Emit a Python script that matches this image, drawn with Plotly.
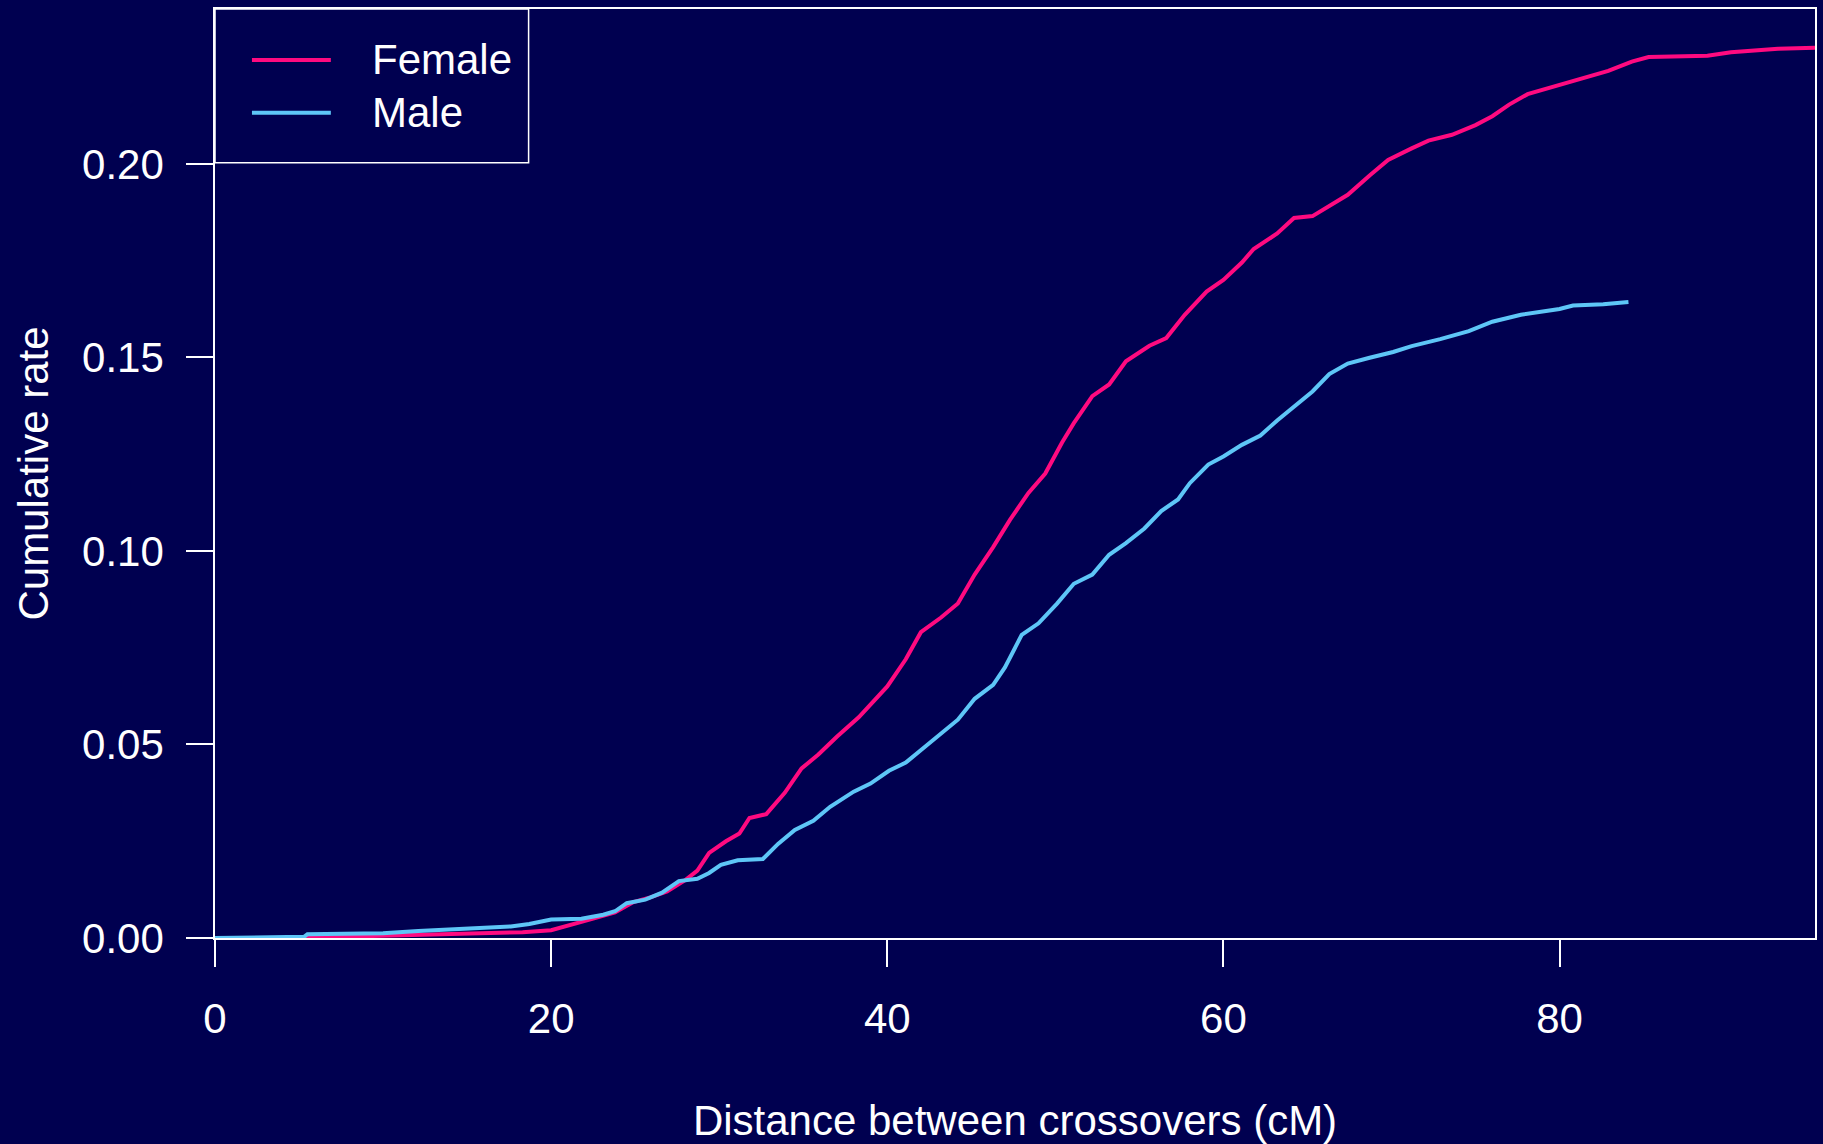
import plotly.graph_objects as go

# cumulative crossover rate by distance (cM)
female_x = [0, 5.5, 10, 14.9, 18.3, 20, 21, 22.5, 23.8, 24.9, 25.9, 26.9, 28, 28.7, 29.4,
            30.4, 31.2, 31.8, 32.8, 33.9, 34.9, 35.9, 37, 38.3, 40, 41.1, 42, 43.2, 44.2,
            45.2, 46.3, 47.3, 48.4, 49.4, 50.4, 51.1, 52.2, 53.2, 54.2, 55.6, 56.6, 57.7,
            59, 60, 61.1, 61.8, 63.2, 64.2, 65.3, 66.3, 67.4, 68.7, 69.8, 71.2, 72.2, 73.6,
            75, 76, 77, 78.1, 80, 81.5, 82.9, 84.3, 85.3, 88.8, 90.2, 93, 95.2]
female_y = [0, 0, 0.0006, 0.001, 0.0015, 0.002, 0.0033, 0.005, 0.0066, 0.0093, 0.0105,
            0.012, 0.015, 0.0174, 0.022, 0.025, 0.027, 0.031, 0.032, 0.0375, 0.0438, 0.0474,
            0.052, 0.057, 0.065, 0.072, 0.079, 0.0828, 0.0864, 0.0939, 0.101, 0.108, 0.115,
            0.12, 0.128, 0.133, 0.14, 0.143, 0.149, 0.153, 0.155, 0.161, 0.167, 0.170,
            0.1745, 0.178, 0.182, 0.186, 0.1865, 0.189, 0.192, 0.197, 0.201, 0.204, 0.206,
            0.2075, 0.21, 0.2123, 0.2153, 0.218, 0.2204, 0.2222, 0.224, 0.2264, 0.2276,
            0.2279, 0.2288, 0.2297, 0.2300]

male_x = [0, 5.3, 5.5, 10, 12.1, 14.5, 17.6, 18.7, 20, 21.8, 23.1, 23.8, 24.5, 25.6, 26.6,
          27.6, 28.7, 29.4, 30.1, 31.1, 32.6, 33.5, 34.5, 35.6, 36.6, 38, 39, 40.1, 41.1,
          42.1, 43.2, 44.2, 45.2, 46.3, 47, 48, 49, 50.1, 51.1, 52.2, 53.2, 54.2, 55.3,
          56.3, 57.3, 58, 59.1, 60, 61.1, 62.2, 63.2, 64.2, 65.3, 66.3, 67.4, 68.7, 70.1,
          71.2, 72.9, 74.6, 76, 77.7, 80, 80.8, 82.6, 84.1]
male_y = [0, 0.0003, 0.001, 0.0012, 0.0018, 0.0024, 0.003, 0.0036, 0.0048, 0.005, 0.006,
          0.0069, 0.009, 0.0099, 0.0117, 0.0147, 0.0153, 0.0168, 0.0189, 0.0201, 0.0204,
          0.0243, 0.0279, 0.0303, 0.0339, 0.0378, 0.0399, 0.0432, 0.0453, 0.0489, 0.0528,
          0.0564, 0.0618, 0.0654, 0.0699, 0.0783, 0.0813, 0.0864, 0.0915, 0.0939, 0.099,
          0.102, 0.1058, 0.1103, 0.1133, 0.1175, 0.1223, 0.1244, 0.1274, 0.1298, 0.1337,
          0.1373, 0.1412, 0.1457, 0.1484, 0.1499, 0.1514, 0.1529, 0.1547, 0.1568, 0.1592,
          0.161, 0.1625, 0.1634, 0.1637, 0.1643]

series_names = ['Female', 'Male']
series_colors = ['#FF0A80', '#5EC6F7']

x_ticks = [0, 20, 40, 60, 80]
y_ticks = [0.0, 0.05, 0.10, 0.15, 0.20]

BG = '#000050'
FONT = 'Liberation Sans, Arial, sans-serif'

fig = go.Figure()
for name, color, xs, ys in [(series_names[0], series_colors[0], female_x, female_y),
                            (series_names[1], series_colors[1], male_x, male_y)]:
    fig.add_trace(go.Scatter(
        x=xs, y=ys, mode='lines', name=name,
        line=dict(color=color, width=4),
        showlegend=False
    ))

# hand-drawn legend box, R style (long line samples)
fig.add_shape(type='rect', xref='paper', yref='paper', x0=0, x1=0.196, y0=0.8344, y1=1,
              line=dict(color='white', width=1.5), fillcolor=BG, layer='above')
for i, (name, color) in enumerate(zip(series_names, series_colors)):
    yy = 0.9452 - i * 0.057
    fig.add_shape(type='line', xref='paper', yref='paper', x0=0.0231, x1=0.0724, y0=yy, y1=yy,
                  line=dict(color=color, width=4), layer='above')
    fig.add_annotation(xref='paper', yref='paper', x=0.0966, y=yy, text=name,
                       showarrow=False, xanchor='left', yanchor='middle',
                       font=dict(family=FONT, size=42, color='white'))

axis_common = dict(
    showline=True, linecolor='white', linewidth=1.5, mirror=True,
    showgrid=False, zeroline=False,
    ticks='outside', ticklen=27, tickwidth=1.5, tickcolor='white',
    tickfont=dict(family=FONT, size=42, color='white'),
)

fig.update_layout(
    width=1823, height=1144,
    margin=dict(l=215, r=6, t=9, b=202),
    paper_bgcolor=BG, plot_bgcolor=BG,
    font=dict(family=FONT, color='white'),
    xaxis=dict(range=[0, 95.2], tickvals=x_ticks, ticklabelstandoff=16,
               title=dict(text='Distance between crossovers (cM)', standoff=66,
                          font=dict(family=FONT, size=42, color='white')),
               **axis_common),
    yaxis=dict(range=[0, 0.24], tickvals=y_ticks, tickformat='.2f', ticklabelstandoff=14,
               title=dict(text='Cumulative rate', standoff=20,
                          font=dict(family=FONT, size=42, color='white')),
               **axis_common),
)

# page body margin would shift the figure off the corner
fig.write_html('out.html', config={'displayModeBar': False},
               post_script="document.body.style.margin='0';")
